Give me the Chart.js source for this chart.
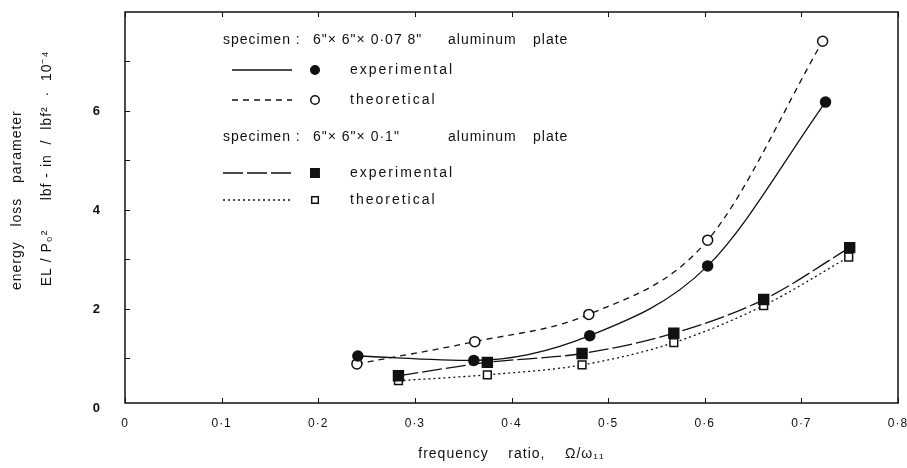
<!DOCTYPE html>
<html>
<head>
<meta charset="utf-8">
<script src="https://cdn.jsdelivr.net/npm/chart.js@4"></script>
<style>
  html, body { margin: 0; padding: 0; background: #fff; }
  #wrap { width: 907px; height: 468px; }
</style>
</head>
<body>
<div id="wrap"><canvas id="lossChart"></canvas></div>
<script>
// frequency ratio (Omega / omega11) of each point
const freqThinExp   = [0.241, 0.361, 0.481, 0.603, 0.725];
const freqThinTheo  = [0.240, 0.362, 0.480, 0.603, 0.722];
const freqThickExp  = [0.283, 0.375, 0.473, 0.568, 0.661, 0.750];
const freqThickTheo = [0.283, 0.375, 0.473, 0.568, 0.661, 0.749];

// energy loss parameter EL/Po^2  (lbf-in/lbf^2 x 10^-4)
const lossThinExp   = [1.05, 0.96, 1.46, 2.87, 6.18];
const lossThinTheo  = [0.89, 1.34, 1.89, 3.39, 7.41];
const lossThickExp  = [0.65, 0.92, 1.10, 1.51, 2.19, 3.24];
const lossThickTheo = [0.55, 0.67, 0.87, 1.32, 2.07, 3.05];

const xTicks = [0, 0.1, 0.2, 0.3, 0.4, 0.5, 0.6, 0.7, 0.8];
const yTicks = [0, 1, 2, 3, 4, 5, 6, 7];
const yTickLabels = [0, 2, 4, 6];
const specimenLabels = ['6"× 6"× 0·07 8"', '6"× 6"× 0·1"'];

const INK = '#111';
const FONT = '"Liberation Sans", Arial, sans-serif';

const toPairs = (xs, ys) => xs.map((x, i) => ({ x, y: ys[i] }));

// spaced-out lettering like the old drafting font
const spacedText = {
    id: 'spacedText',
    beforeDraw(chart) { chart.ctx.letterSpacing = '1px'; },
    afterDraw(chart) { chart.ctx.letterSpacing = '0px'; }
};

// plot frame with inward tick marks (bottom/top for x, left for y)
const frameTicks = {
    id: 'frameTicks',
    beforeDatasetsDraw(chart) {
        const { ctx, chartArea: a, scales: { x, y } } = chart;
        const len = 5;
        ctx.save();
        ctx.strokeStyle = INK;
        ctx.lineWidth = 1.5;
        ctx.strokeRect(a.left, a.top, a.right - a.left, a.bottom - a.top);
        ctx.lineWidth = 1;
        ctx.beginPath();
        x.ticks.forEach(t => {
            const px = Math.round(x.getPixelForValue(t.value)) + 0.5;
            ctx.moveTo(px, a.bottom); ctx.lineTo(px, a.bottom - len);
            ctx.moveTo(px, a.top); ctx.lineTo(px, a.top + len);
        });
        // the scanned frame sits a little above the zero level
        y.ticks.filter(t => t.value >= y.min).forEach(t => {
            const py = Math.round(y.getPixelForValue(t.value)) + 0.5;
            ctx.moveTo(a.left, py); ctx.lineTo(a.left + len, py);
        });
        ctx.stroke();
        ctx.restore();
    }
};

// key drawn inside the plot, two specimen blocks
const plateLegend = {
    id: 'plateLegend',
    afterDraw(chart) {
        const ctx = chart.ctx;
        const sets = chart.data.datasets;
        const blocks = [
            { head: 40, rows: [70, 100], lineFrom: 232 },
            { head: 137, rows: [173, 200], lineFrom: 223 }
        ];
        ctx.save();
        ctx.fillStyle = INK;
        ctx.strokeStyle = INK;
        ctx.textBaseline = 'middle';
        blocks.forEach((b, k) => {
            ctx.font = '14px ' + FONT;
            ctx.letterSpacing = '1px';
            ctx.fillText('specimen :', 223, b.head);
            ctx.fillText(specimenLabels[k], 313, b.head);
            ctx.fillText('aluminum', 448, b.head);
            ctx.fillText('plate', 533, b.head);
            b.rows.forEach((ry, j) => {
                const ds = sets[k * 2 + j];
                ctx.lineWidth = ds.borderWidth;
                ctx.setLineDash(ds.borderDash || []);
                ctx.beginPath();
                ctx.moveTo(b.lineFrom, ry);
                ctx.lineTo(292, ry);
                ctx.stroke();
                ctx.setLineDash([]);
                ctx.fillStyle = ds.pointBackgroundColor;
                ctx.lineWidth = ds.pointBorderWidth;
                Chart.helpers.drawPoint(ctx, {
                    pointStyle: ds.pointStyle,
                    radius: ds.pointRadius * 0.85,
                    rotation: 0,
                    borderWidth: ds.pointBorderWidth
                }, 315, ry);
                ctx.fillStyle = INK;
                ctx.letterSpacing = '2px';
                ctx.fillText(ds.label, 350, ry);
            });
        });
        ctx.restore();
    }
};

const lineBase = {
    borderColor: INK,
    borderWidth: 1.3,
    pointBorderColor: INK,
    pointBorderWidth: 1.5,
    cubicInterpolationMode: 'monotone',
    fill: false
};

new Chart(document.getElementById('lossChart'), {
    type: 'line',
    data: {
        datasets: [
            {
                ...lineBase,
                label: 'experimental',
                data: toPairs(freqThinExp, lossThinExp),
                pointStyle: 'circle',
                pointRadius: 5,
                pointBackgroundColor: INK
            },
            {
                ...lineBase,
                label: 'theoretical',
                data: toPairs(freqThinTheo, lossThinTheo),
                borderDash: [6, 5],
                pointStyle: 'circle',
                pointRadius: 5,
                pointBackgroundColor: '#fff'
            },
            {
                ...lineBase,
                label: 'experimental',
                data: toPairs(freqThickExp, lossThickExp),
                borderDash: [20, 4],
                pointStyle: 'rect',
                pointRadius: 7,
                pointBackgroundColor: INK
            },
            {
                ...lineBase,
                label: 'theoretical',
                data: toPairs(freqThickTheo, lossThickTheo),
                borderDash: [2, 3],
                pointStyle: 'rect',
                pointRadius: 5.5,
                pointBackgroundColor: '#fff'
            }
        ]
    },
    options: {
        responsive: true,
        maintainAspectRatio: false,
        animation: false,
        layout: { padding: { top: 12, right: 9, left: 0, bottom: 0 } },
        plugins: {
            legend: { display: false },
            tooltip: { enabled: false }
        },
        scales: {
            x: {
                type: 'linear',
                min: 0,
                max: 0.8,
                afterBuildTicks: s => { s.ticks = xTicks.map(v => ({ value: v })); },
                afterFit: s => { s.height = 65; s.paddingLeft = 0; s.paddingRight = 0; },
                grid: { display: false, drawTicks: false },
                border: { display: false },
                ticks: {
                    color: INK,
                    padding: 13,
                    maxRotation: 0,
                    autoSkip: false,
                    font: { family: FONT, size: 12 },
                    callback: v => v === 0 ? '0' : v.toFixed(1).replace('.', '·')
                },
                title: {
                    display: true,
                    text: 'frequency    ratio,    Ω/ω₁₁',
                    color: INK,
                    font: { family: FONT, size: 14 },
                    padding: { top: 0, bottom: 5 }
                }
            },
            y: {
                min: 0.1,
                max: 8,
                afterBuildTicks: s => { s.ticks = yTicks.map(v => ({ value: v })); },
                afterFit: s => { s.width = 125; s.paddingTop = 0; s.paddingBottom = 0; },
                grid: { display: false, drawTicks: false },
                border: { display: false },
                ticks: {
                    color: INK,
                    padding: 24,
                    autoSkip: false,
                    font: { family: FONT, size: 13, weight: 'bold' },
                    callback: v => yTickLabels.includes(v) ? String(v) : ''
                },
                title: {
                    display: true,
                    text: [
                        '   energy   loss   parameter',
                        '                EL / P₀²      lbf - in  /  lbf²  ·  10⁻⁴'
                    ],
                    color: INK,
                    font: { family: FONT, size: 14, lineHeight: '30px' },
                    padding: { top: 2, bottom: 0 }
                }
            }
        }
    },
    plugins: [spacedText, frameTicks, plateLegend]
});
</script>
</body>
</html>
